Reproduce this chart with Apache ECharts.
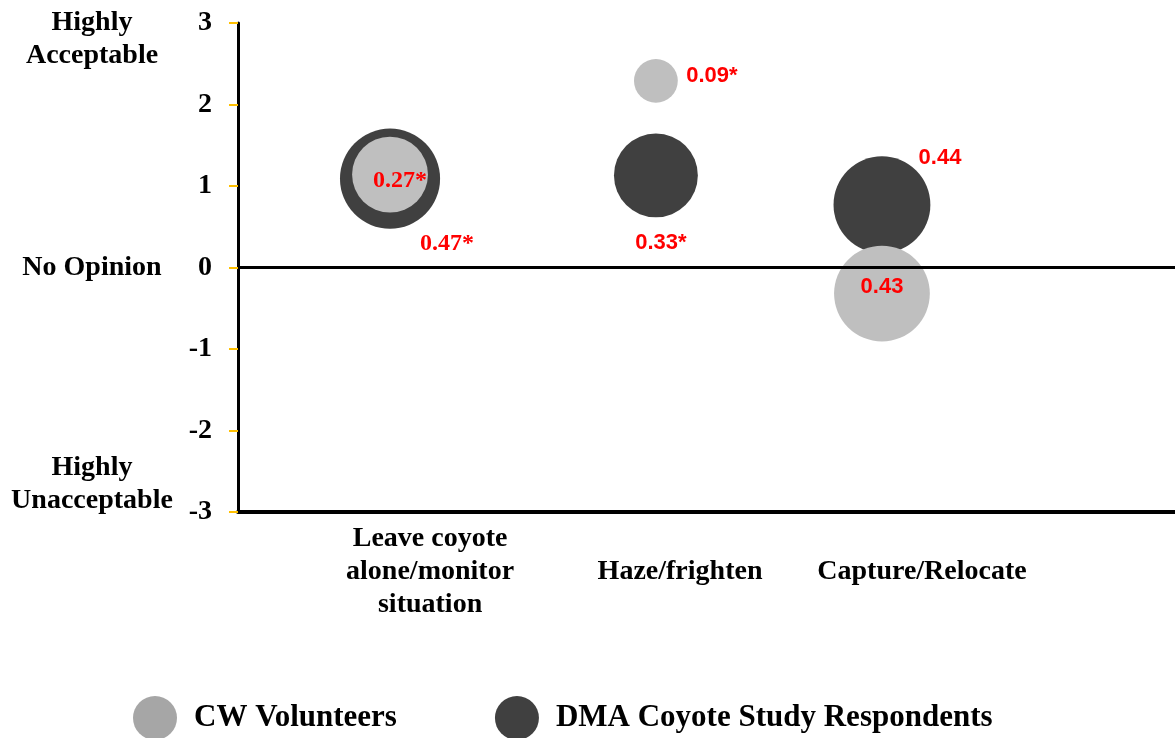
<!DOCTYPE html>
<html>
<head>
<meta charset="utf-8">
<script src="https://cdn.jsdelivr.net/npm/echarts@6/dist/echarts.min.js"></script>
<style>
  html, body { margin: 0; padding: 0; background: #fff; }
  #chart { width: 1175px; height: 738px; }
</style>
</head>
<body>
<div id="chart"></div>
<script>
// categories and where their labels sit on the x scale
var categories = ['Leave coyote\nalone/monitor\nsituation', 'Haze/frighten', 'Capture/Relocate'];
var categoryPos = [0.82, 1.887, 2.92];
// bubble x positions (x scale units)
var bubbleX = [0.649, 1.784, 2.749];

// CW Volunteers: mean acceptability and SD (bubble size)
var cwMean = [1.14, 2.29, -0.32];
var cwSd = [0.27, 0.09, 0.43];
var cwLabels = ['0.27*', '0.09*', '0.43'];

// DMA Coyote Study Respondents
var dmaMean = [1.09, 1.13, 0.77];
var dmaSd = [0.47, 0.33, 0.44];
var dmaLabels = ['0.47*', '0.33*', '0.44'];

// scale descriptions on the left
var scaleLabels = ['Highly\nAcceptable', 'No Opinion', 'Highly\nUnacceptable'];
var scalePos = [2.8, 0, -2.66];

var serif = '"Liberation Serif", "Times New Roman", serif';
var sans = '"Liberation Sans Narrow", "Liberation Sans", Arial, sans-serif';

function bubbleSize(d) {
  return 146 * Math.sqrt(d[2]);
}

// label placement per bubble (offsets from bubble centre)
var cwLabelStyle = [
  {offset: [10, 6], fontFamily: serif, fontSize: 24},
  {offset: [56, -5], fontFamily: sans, fontSize: 22},
  {offset: [0, -7], fontFamily: sans, fontSize: 22}
];
var dmaLabelStyle = [
  {offset: [57, 65], fontFamily: serif, fontSize: 24},
  {offset: [5, 68], fontFamily: sans, fontSize: 22},
  {offset: [58, -47], fontFamily: sans, fontSize: 22}
];

function buildData(means, sds, labels, styles) {
  return means.map(function (m, i) {
    return {
      value: [bubbleX[i], m, sds[i]],
      label: {
        show: true,
        position: 'inside',
        formatter: labels[i],
        offset: styles[i].offset,
        fontFamily: styles[i].fontFamily,
        color: '#ff0000',
        fontWeight: 'bold',
        fontSize: styles[i].fontSize
      }
    };
  });
}

var chart = echarts.init(document.getElementById('chart'));

chart.setOption({
  animation: false,
  backgroundColor: '#fff',
  grid: {
    left: 238,
    right: 0,
    top: 23,
    bottom: 226,
    outerBoundsMode: 'none'
  },
  legend: {
    left: 133,
    top: 696,
    padding: 0,
    itemWidth: 44,
    itemHeight: 44,
    itemGap: 98,
    icon: 'circle',
    textStyle: {
      fontFamily: serif,
      fontWeight: 'bold',
      fontSize: 31,
      color: '#000',
      padding: [0, 0, 0, 12]
    },
    data: [
      {name: 'CW Volunteers', itemStyle: {color: '#a6a6a6'}},
      {name: 'DMA Coyote Study Respondents', itemStyle: {color: '#404040'}}
    ]
  },
  xAxis: {
    type: 'value',
    min: 0,
    max: 4,
    splitLine: {show: false},
    axisLine: {onZero: false, lineStyle: {color: '#000', width: 4}},
    axisTick: {show: false},
    axisLabel: {
      customValues: categoryPos,
      formatter: function (v) {
        var i = categoryPos.indexOf(v);
        return i >= 0 ? categories[i] : '';
      },
      verticalAlign: 'middle',
      margin: 60,
      lineHeight: 33,
      fontFamily: serif,
      fontWeight: 'bold',
      fontSize: 28,
      color: '#000'
    }
  },
  yAxis: [{
    type: 'value',
    min: -3,
    max: 3,
    interval: 1,
    splitLine: {show: false},
    axisLine: {show: true, lineStyle: {color: '#000', width: 3}},
    axisTick: {show: true, length: 9, lineStyle: {color: '#FFC000', width: 2}},
    axisLabel: {
      margin: 26,
      fontFamily: serif,
      fontWeight: 'bold',
      fontSize: 28,
      color: '#000'
    }
  }, {
    type: 'value',
    position: 'left',
    min: -3,
    max: 3,
    splitLine: {show: false},
    axisLine: {show: false},
    axisTick: {show: false},
    axisLabel: {
      customValues: scalePos,
      formatter: function (v) {
        var i = scalePos.indexOf(v);
        return i >= 0 ? scaleLabels[i] : '';
      },
      align: 'center',
      margin: 146,
      lineHeight: 33,
      fontFamily: serif,
      fontWeight: 'bold',
      fontSize: 28,
      color: '#000'
    }
  }],
  series: [{
    name: 'DMA Coyote Study Respondents',
    type: 'scatter',
    symbol: 'circle',
    symbolSize: bubbleSize,
    itemStyle: {color: '#404040', opacity: 1},
    data: buildData(dmaMean, dmaSd, dmaLabels, dmaLabelStyle)
  }, {
    name: 'CW Volunteers',
    type: 'scatter',
    symbol: 'circle',
    symbolSize: bubbleSize,
    itemStyle: {color: '#bfbfbf', opacity: 1},
    data: buildData(cwMean, cwSd, cwLabels, cwLabelStyle),
    markLine: {
      silent: true,
      symbol: 'none',
      label: {show: false},
      lineStyle: {color: '#000', width: 3, type: 'solid'},
      data: [{yAxis: 0}]
    }
  }]
});
</script>
</body>
</html>
